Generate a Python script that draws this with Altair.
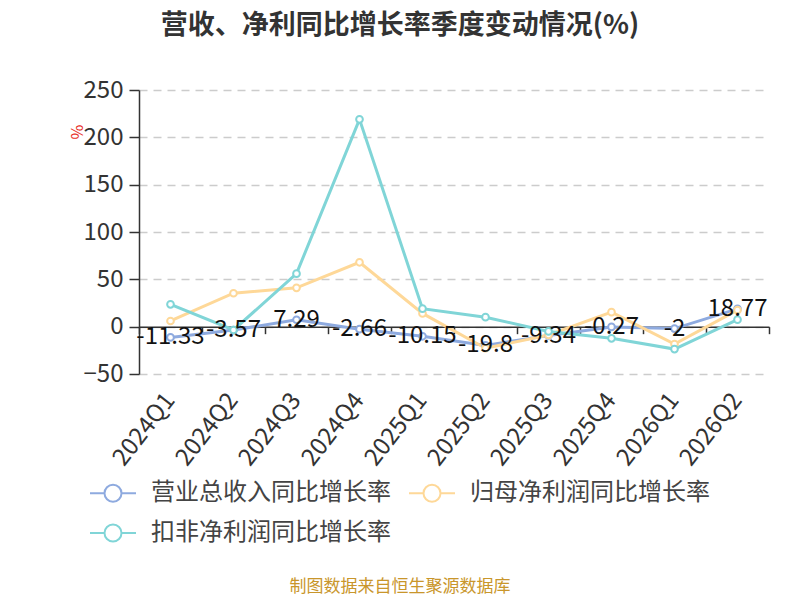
import altair as alt
import pandas as pd

quarters = ["2024Q1", "2024Q2", "2024Q3", "2024Q4", "2025Q1",
            "2025Q2", "2025Q3", "2025Q4", "2026Q1", "2026Q2"]
revenue = [-11.33, -3.57, 7.29, -2.66, -10.15, -19.8, -9.34, -0.27, -2, 18.77]
parent_np = [6.0, 35.3, 41.0, 68.0, 14.0, -22.8, -8.8, 15.3, -18.3, 17.5]
deducted_np = [23.6, -3.5, 56.0, 219.0, 19.0, 10.0, -5.0, -12.3, -23.7, 7.4]
revenue_labels = ["-11.33", "-3.57", "7.29", "-2.66", "-10.15", "-19.8", "-9.34", "-0.27", "-2", "18.77"]
series_names = ["营业总收入同比增长率", "归母净利润同比增长率", "扣非净利润同比增长率"]
colors = ["#8eaadf", "#fed898", "#80d5d7"]
y_ticks = [-50, 0, 50, 100, 150, 200, 250]
title_text = "营收、净利同比增长率季度变动情况(%)"
footer_text = "制图数据来自恒生聚源数据库"
unit_text = "%"

FONT = "Noto Sans CJK SC"
W, H = 630, 284

rows = []
for name, vals in zip(series_names, [revenue, parent_np, deducted_np]):
    for q, v in zip(quarters, vals):
        rows.append({"quarter": q, "series": name, "value": v})
df = pd.DataFrame(rows)
lab_df = pd.DataFrame({"quarter": quarters, "value": revenue, "label": revenue_labels})

xscale = alt.Scale(type="band", domain=quarters, paddingInner=0, paddingOuter=0)
yscale = alt.Scale(domain=[-50, 250], nice=False, zero=False)

x_main = alt.X("quarter:N", scale=xscale, bandPosition=0.5,
               axis=alt.Axis(title=None, orient="bottom", domain=False, ticks=False, tickSize=0,
                             labelAngle=-52, labelAlign="right", labelBaseline="middle",
                             labelPadding=22, labelFontSize=24, labelColor="#333",
                             labelFont=FONT, grid=False))
y_axis = alt.Axis(title=None, values=y_ticks, domain=True, domainColor="#333",
                  domainWidth=1.5, ticks=True, tickSize=10, tickColor="#333",
                  tickWidth=1.5, labelPadding=6, labelFontSize=24,
                  labelColor="#333", labelFont=FONT, grid=True,
                  gridColor="#cccccc", gridDash=[8, 6], gridWidth=1.5)


def y_enc():
    return alt.Y("value:Q", scale=yscale, axis=y_axis)


legend_path = ("M-1,0L-0.37,0M0.37,0L1,0M0.37,0A0.37,0.37,0,1,1,-0.37,0"
               "A0.37,0.37,0,1,1,0.37,0")

color_enc = alt.Color("series:N", scale=alt.Scale(domain=series_names, range=colors),
                      legend=alt.Legend(title=None, orient="none", legendX=-50, legendY=379,
                                        direction="horizontal", columns=2,
                                        symbolType=legend_path, symbolSize=2116,
                                        symbolStrokeWidth=2, symbolFillColor="white",
                                        labelFontSize=24, labelColor="#444", labelFont=FONT,
                                        labelLimit=400, labelOffset=14, columnPadding=14,
                                        rowPadding=3, symbolOffset=0))

lines = alt.Chart(df).mark_line(strokeWidth=3).encode(
    x=x_main, y=y_enc(), color=color_enc,
    order=alt.Order("quarter:N"))

points = alt.Chart(df).mark_point(filled=False, fill="white", fillOpacity=1, opacity=1,
                                  size=45, strokeWidth=2).encode(
    x=alt.X("quarter:N", scale=xscale, bandPosition=0.5, axis=None),
    y=y_enc(),
    color=alt.Color("series:N", scale=alt.Scale(domain=series_names, range=colors), legend=None))

labels = alt.Chart(lab_df).mark_text(fontSize=24, font=FONT, color="#111",
                                     align="center", baseline="middle").encode(
    x=alt.X("quarter:N", scale=xscale, bandPosition=0.5, axis=None),
    y=y_enc(),
    text="label:N")

zero_axis = alt.Chart(df).mark_point(opacity=0).encode(
    x=alt.X("quarter:N", scale=xscale,
            axis=alt.Axis(title=None, orient="bottom", offset=-47.33, labels=False, grid=False,
                          domain=True, domainColor="#333", domainWidth=1.5,
                          ticks=True, tickBand="extent", tickSize=7, tickColor="#333",
                          tickWidth=1.5)),
    y=y_enc())

footer = alt.Chart(pd.DataFrame({"t": [footer_text]})).mark_text(
    fontSize=17, font=FONT, color="#c9962b", align="center",
    baseline="middle").encode(text="t:N", x=alt.value(400 - 139), y=alt.value(587 - 90))

unit = alt.Chart(pd.DataFrame({"t": [unit_text]})).mark_text(
    fontSize=16, font=FONT, color="#e8302a", align="center", angle=90,
    baseline="middle").encode(text="t:N", x=alt.value(76 - 139), y=alt.value(132 - 90))

chart = alt.layer(zero_axis, lines, points, labels, footer, unit).resolve_axis(
    x="independent").properties(
    width=W, height=H,
    title=alt.TitleParams(text=title_text, anchor="middle", frame="group", dx=-54,
                          fontSize=27, fontWeight="bold", font=FONT, color="#333",
                          baseline="middle", offset=0, dy=-25),
    autosize=alt.AutoSizeParams(type="none"),
    padding={"left": 131, "top": 82, "right": 23, "bottom": 222},
).configure_view(stroke=None)

chart.save("out.html", embed_options={"renderer": "svg", "actions": False})
